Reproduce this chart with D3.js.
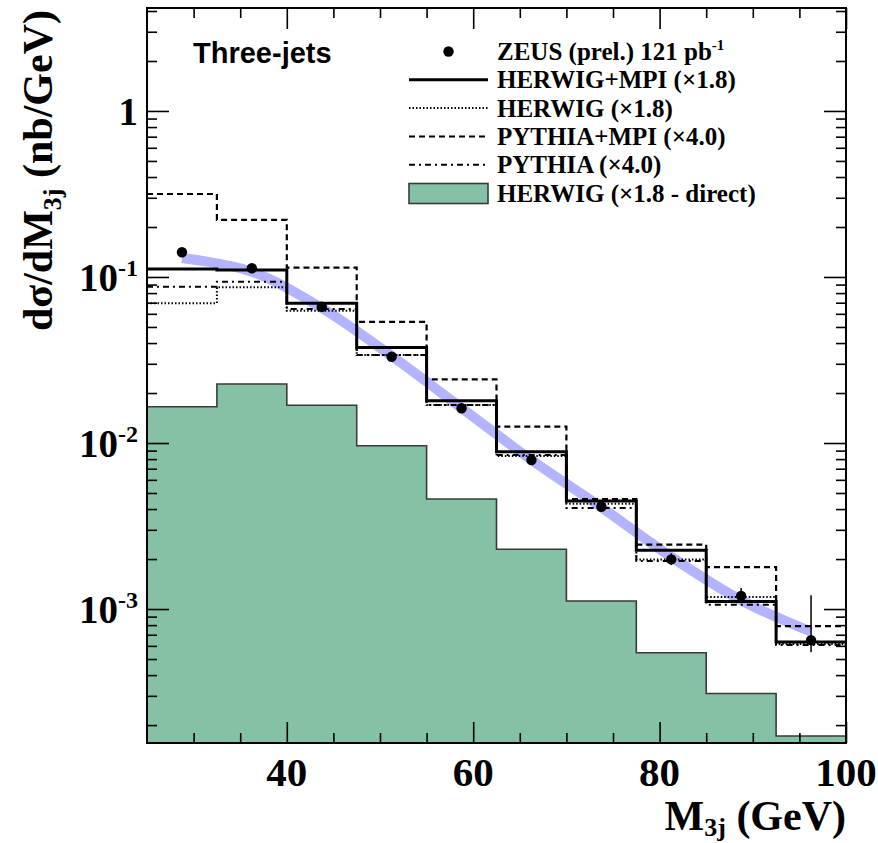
<!DOCTYPE html>
<html>
<head>
<meta charset="utf-8">
<script src="https://cdn.jsdelivr.net/npm/d3@7"></script>
<style>
  html, body { margin: 0; padding: 0; background: #fff; }
  svg { display: block; }
</style>
</head>
<body>
<svg id="chart" width="878" height="843"></svg>
<script>
// Three-jet invariant mass bins (GeV)
const binEdges = [25, 32.5, 40, 47.5, 55, 62.5, 70, 77.5, 85, 92.5, 100];

// ZEUS preliminary data (nb/GeV) with asymmetric uncertainties
const zeusValues  = [0.141, 0.1128, 0.0662, 0.0331, 0.0162, 0.0079, 0.00413, 0.00199, 0.0012, 0.00065];
const zeusErrUp   = [0.005, 0.004, 0.0025, 0.0012, 0.0006, 0.0003, 0.00016, 0.00018, 0.00014, 0.00056];
const zeusErrDown = [0.005, 0.004, 0.0025, 0.0012, 0.0006, 0.0003, 0.00016, 0.00015, 0.00011, 0.0001];

// Monte Carlo predictions (scaled)
const herwigMpi   = [0.1117, 0.1102, 0.0695, 0.0376, 0.0180, 0.00887, 0.00448, 0.00226, 0.00111, 0.000633];
const herwig      = [0.0695, 0.0867, 0.0627, 0.0339, 0.01694, 0.00835, 0.00431, 0.00199, 0.00118, 0.000615];
const pythiaMpi   = [0.316, 0.2206, 0.114, 0.0536, 0.0242, 0.01254, 0.0046, 0.00244, 0.00179, 0.00079];
const pythia      = [0.0874, 0.0937, 0.0642, 0.0339, 0.01694, 0.00847, 0.00406, 0.00195, 0.00106, 0.000607];
const herwigDirect = [0.01655, 0.02266, 0.01687, 0.00963, 0.0046, 0.00229, 0.001117, 0.000545, 0.00031, 0.000172];

// Smooth theory band through the bin centres
const bandValues  = [0.130, 0.1076, 0.065, 0.0334, 0.01626, 0.00790, 0.00410, 0.00206, 0.00113, 0.00073];

// Axis ticks and labels
const xMajorTicks = [40, 60, 80, 100];
const xMinorTicks = [30, 35, 45, 50, 55, 65, 70, 75, 85, 90, 95];
const yMajorTicks = [1e-3, 1e-2, 1e-1, 1];
const yTickLabels = [["10", "-3"], ["10", "-2"], ["10", "-1"], ["1", ""]];

const legendLabels = [
  "ZEUS (prel.) 121 pb",
  "HERWIG+MPI (\u00d71.8)",
  "HERWIG (\u00d71.8)",
  "PYTHIA+MPI (\u00d74.0)",
  "PYTHIA (\u00d74.0)",
  "HERWIG (\u00d71.8 - direct)"
];

const SERIF = "'Liberation Serif', 'Times New Roman', Times, serif";
const SANS  = "'Liberation Sans', Arial, Helvetica, sans-serif";
const GREEN = "#85c2a5";
const BAND  = "#b3b3ff";

const svg = d3.select("#chart");
const plotLeft = 147, plotRight = 846, plotTop = 8, plotBottom = 743;

const x = d3.scaleLinear().domain([25, 100]).range([plotLeft, plotRight]);
const y = d3.scaleLog().domain([1.56e-4, 4.17]).range([plotBottom, plotTop]);

// minor log ticks 2..9 within each decade
const yMinorTicks = [];
for (let e = -4; e <= 0; e++) {
  for (let m = 2; m <= 9; m++) {
    const v = m * Math.pow(10, e);
    if (v > y.domain()[0] && v < y.domain()[1]) yMinorTicks.push(v);
  }
}

svg.append("defs").append("clipPath").attr("id", "plotClip")
  .append("rect").attr("x", plotLeft).attr("y", plotTop)
  .attr("width", plotRight - plotLeft).attr("height", plotBottom - plotTop);

const plot = svg.append("g").attr("clip-path", "url(#plotClip)");

function stepPoints(vals) {
  return binEdges.map((e, i) => [e, vals[Math.min(i, vals.length - 1)]]);
}
const stepLine = d3.line().x(d => x(d[0])).y(d => y(d[1])).curve(d3.curveStepAfter);

// HERWIG direct contribution (filled)
const area = d3.area().x(d => x(d[0])).y0(plotBottom).y1(d => y(d[1])).curve(d3.curveStepAfter);
plot.append("path").datum(stepPoints(herwigDirect))
  .attr("d", area).attr("fill", GREEN).attr("stroke", "none");
plot.append("path").datum(stepPoints(herwigDirect))
  .attr("d", stepLine).attr("fill", "none").attr("stroke", "#3a3a3a").attr("stroke-width", 1.6);

// theory band
const centers = binEdges.slice(0, -1).map((e, i) => (e + binEdges[i + 1]) / 2);
const bandLine = d3.line().x(d => x(d[0])).y(d => y(d[1])).curve(d3.curveCatmullRom.alpha(0.5));
plot.append("path").datum(centers.map((c, i) => [c, bandValues[i]]))
  .attr("d", bandLine).attr("fill", "none").attr("stroke", BAND)
  .attr("stroke-width", 10).attr("stroke-linecap", "butt");

// MC histograms
const histStyles = [
  { vals: herwig,    width: 2,   dash: "1.5,2" },
  { vals: pythia,    width: 2,   dash: "6,4,2,4" },
  { vals: pythiaMpi, width: 2.2, dash: "6,4" },
  { vals: herwigMpi, width: 3,   dash: null }
];
histStyles.forEach(s => {
  plot.append("path").datum(stepPoints(s.vals))
    .attr("d", stepLine).attr("fill", "none").attr("stroke", "#000")
    .attr("stroke-width", s.width)
    .attr("stroke-dasharray", s.dash);
});

// ZEUS points with error bars
const pts = plot.append("g");
zeusValues.forEach((v, i) => {
  const cx = x(centers[i]);
  pts.append("line").attr("x1", cx).attr("x2", cx)
    .attr("y1", y(v + zeusErrUp[i])).attr("y2", y(v - zeusErrDown[i]))
    .attr("stroke", "#000").attr("stroke-width", 1.5);
  pts.append("circle").attr("cx", cx).attr("cy", y(v)).attr("r", 5.2).attr("fill", "#000");
});

// Axes (ticks pointing inward on all four sides)
function styleAxis(g) {
  g.select(".domain").remove();
  g.selectAll("line").attr("stroke", "#000").attr("stroke-width", 1.6);
  g.selectAll("text").remove();
}
svg.append("g").attr("transform", `translate(0,${plotBottom})`)
  .call(d3.axisBottom(x).tickValues(xMajorTicks).tickSize(-21)).call(styleAxis);
svg.append("g").attr("transform", `translate(0,${plotBottom})`)
  .call(d3.axisBottom(x).tickValues(xMinorTicks).tickSize(-10)).call(styleAxis);
svg.append("g").attr("transform", `translate(0,${plotTop})`)
  .call(d3.axisTop(x).tickValues(xMajorTicks).tickSize(-21)).call(styleAxis);
svg.append("g").attr("transform", `translate(0,${plotTop})`)
  .call(d3.axisTop(x).tickValues(xMinorTicks).tickSize(-10)).call(styleAxis);
svg.append("g").attr("transform", `translate(${plotLeft},0)`)
  .call(d3.axisLeft(y).tickValues(yMajorTicks).tickSize(-22)).call(styleAxis);
svg.append("g").attr("transform", `translate(${plotLeft},0)`)
  .call(d3.axisLeft(y).tickValues(yMinorTicks).tickSize(-10)).call(styleAxis);
svg.append("g").attr("transform", `translate(${plotRight},0)`)
  .call(d3.axisRight(y).tickValues(yMajorTicks).tickSize(-22)).call(styleAxis);
svg.append("g").attr("transform", `translate(${plotRight},0)`)
  .call(d3.axisRight(y).tickValues(yMinorTicks).tickSize(-10)).call(styleAxis);

// frame
svg.append("rect").attr("x", plotLeft).attr("y", plotTop)
  .attr("width", plotRight - plotLeft).attr("height", plotBottom - plotTop)
  .attr("fill", "none").attr("stroke", "#000").attr("stroke-width", 2);

// x tick labels
svg.append("g").selectAll("text").data(xMajorTicks).join("text")
  .attr("x", d => x(d)).attr("y", 786)
  .attr("text-anchor", "middle")
  .attr("font-family", SERIF).attr("font-weight", "bold").attr("font-size", 41)
  .text(d => d);

// y tick labels with exponents
yMajorTicks.forEach((v, i) => {
  const [base, exp] = yTickLabels[i];
  const t = svg.append("text")
    .attr("x", 138).attr("y", y(v) + 14)
    .attr("text-anchor", "end")
    .attr("font-family", SERIF).attr("font-weight", "bold").attr("font-size", 39);
  t.append("tspan").text(base);
  if (exp) t.append("tspan").attr("dy", -15).attr("font-size", 24).text(exp);
});

// axis titles
const xt = svg.append("text").attr("x", 846).attr("y", 830)
  .attr("text-anchor", "end")
  .attr("font-family", SERIF).attr("font-weight", "bold").attr("font-size", 42);
xt.append("tspan").text("M");
xt.append("tspan").attr("dy", 6).attr("font-size", 26).text("3j");
xt.append("tspan").attr("dy", -6).text(" (GeV)");

const yt = svg.append("text").attr("transform", "translate(52,10) rotate(-90)")
  .attr("text-anchor", "end")
  .attr("font-family", SERIF).attr("font-weight", "bold").attr("font-size", 42);
yt.append("tspan").text("d\u03c3/dM");
yt.append("tspan").attr("dy", 9).attr("font-size", 26).text("3j");
yt.append("tspan").attr("dy", -9).text(" (nb/GeV)");

// panel label
svg.append("text").attr("x", 193).attr("y", 63)
  .attr("font-family", SANS).attr("font-weight", "bold").attr("font-size", 29)
  .text("Three-jets");

// legend
const leg = svg.append("g");
const legX0 = 409, legX1 = 488, legTextX = 497, legY0 = 51.5, legDy = 28.3;
const legendDash = [null, null, "1.5,2", "6,4", "6,4,2,4", null];
legendLabels.forEach((lab, i) => {
  const ry = legY0 + i * legDy;
  if (i === 0) {
    leg.append("circle").attr("cx", (legX0 + legX1) / 2).attr("cy", ry).attr("r", 5.2).attr("fill", "#000");
  } else if (i === 5) {
    leg.append("rect").attr("x", legX0).attr("y", ry - 9.5).attr("width", legX1 - legX0).attr("height", 20)
      .attr("fill", GREEN).attr("stroke", "#3a3a3a").attr("stroke-width", 1.6);
  } else {
    leg.append("line").attr("x1", legX0).attr("x2", legX1).attr("y1", ry).attr("y2", ry)
      .attr("stroke", "#000").attr("stroke-width", i === 1 ? 3 : 2)
      .attr("stroke-dasharray", legendDash[i]);
  }
  const t = leg.append("text").attr("x", legTextX).attr("y", ry + 8.5)
    .attr("font-family", SERIF).attr("font-weight", "bold").attr("font-size", 25);
  t.append("tspan").text(lab);
  if (i === 0) t.append("tspan").attr("dy", -10).attr("font-size", 15).text("-1");
});
</script>
</body>
</html>
